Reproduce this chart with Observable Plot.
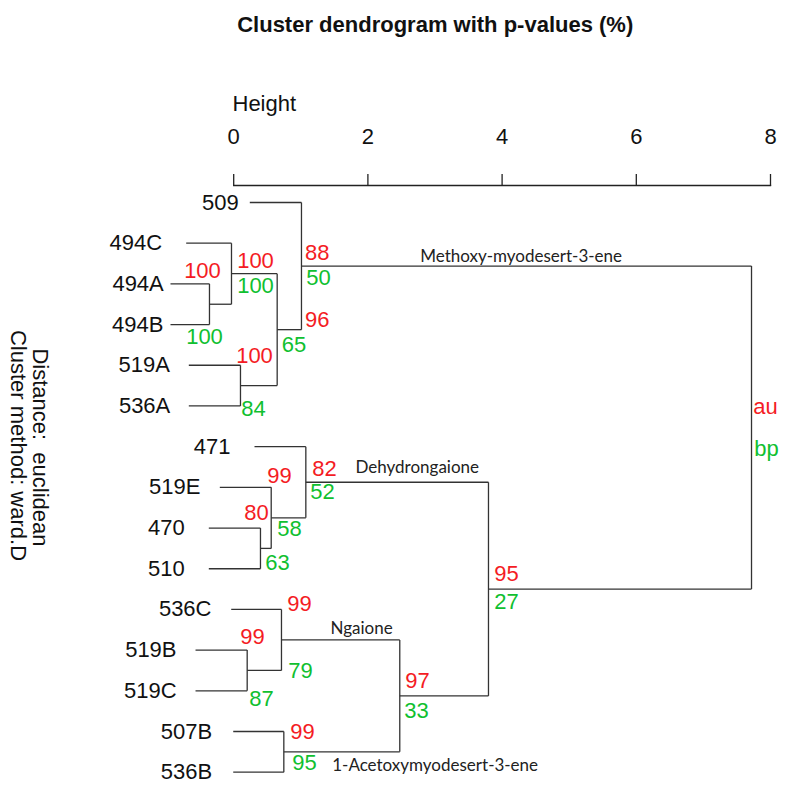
<!DOCTYPE html>
<html><head><meta charset="utf-8">
<script src="https://cdn.jsdelivr.net/npm/d3@7"></script>
<script src="https://cdn.jsdelivr.net/npm/@observablehq/plot@0.6"></script>
<style>body{margin:0;background:#fff}</style>
</head><body><div id="chart"></div>
<script>
// ---- Leaves (top to bottom) ----
const leaves    = ["509","494C","494A","494B","519A","536A","471","519E","470","510","536C","519B","519C","507B","536B"];
// height where each leaf's branch begins (hang) and where its label ends
const leafStart = [0.240,-0.708,-0.942,-0.942,-0.669,-0.669,0.310,-0.207,-0.371,-0.371,-0.037,-0.569,-0.569,-0.007,-0.007];
const labelEnd  = [0.076,-1.066,-1.042,-1.046,-0.952,-0.945,-0.048,-0.495,-0.729,-0.729,-0.331,-0.852,-0.852,-0.320,-0.320];

// ---- Merges ----
const nodeIds     = ["n1","n2","n3","n4","n5","n6","n7","n8","n9","n10","n11","n12","n13","n14"];
const mergeLeft   = ["494A","494C","519A","n2","509","470","519E","471","519B","536C","507B","n10","n8","n5"];
const mergeRight  = ["494B","n1","536A","n3","n4","510","n6","n7","519C","n9","536B","n11","n12","n13"];
const mergeHeight = [-0.361,-0.033,0.101,0.648,1.010,0.399,0.559,1.075,0.201,0.712,0.747,2.475,3.797,7.717];

// ---- p-values (%) ----
const auValues = [100,100,100,96,88,80,99,82,99,99,99,97,95];
const bpValues = [100,100,84,65,50,63,58,52,87,79,95,33,27];
// label anchors (height, leaf row)
const auH   = [-0.465,0.325,0.310,1.244,1.244,0.340,0.683,1.353,0.280,0.981,1.025,2.739,4.066];
const auRow = [1.671,1.438,3.760,2.888,1.241,7.631,6.709,6.537,10.683,9.855,13.001,11.760,9.118];
const bpH   = [-0.435,0.325,0.295,0.899,1.264,0.653,0.832,1.323,0.414,0.995,1.055,2.724,4.066];
const bpRow = [3.305,2.040,5.063,3.507,1.855,8.860,8.012,7.110,12.190,11.502,13.763,12.485,9.806];

// ---- legend & compound annotations ----
const legendText = ["au","bp"];
const legendH    = [7.926,7.941];
const legendRow  = [5.013,6.05];
const compounds   = ["Methoxy-myodesert-3-ene","Dehydrongaione","Ngaione","1-Acetoxymyodesert-3-ene"];
const compoundH   = [2.780,1.815,1.443,1.468];
const compoundRow = [1.45,6.65,10.61,13.98];

const xTicks = [0,2,4,6,8];

// ---- build tree geometry ----
const pos = {};
leaves.forEach((name,i)=>{ pos[name] = {row:i, leaf:true, start:leafStart[i]}; });
const links = [];
nodeIds.forEach((id,i)=>{
  const h = mergeHeight[i];
  const kids = [pos[mergeLeft[i]], pos[mergeRight[i]]];
  kids.forEach(k=>{
    links.push({x1: k.leaf ? k.start : k.h, y1: k.row, x2: h, y2: k.row});
  });
  links.push({x1: h, y1: kids[0].row, x2: h, y2: kids[1].row});
  pos[id] = {row:(kids[0].row+kids[1].row)/2, leaf:false, h};
});

const leafData = leaves.map((name,i)=>({name, row:i, x:labelEnd[i]}));
const auData = auValues.map((v,i)=>({v, x:auH[i], y:auRow[i]}));
const bpData = bpValues.map((v,i)=>({v, x:bpH[i], y:bpRow[i]}));
const legendData = legendText.map((t,i)=>({t, x:legendH[i], y:legendRow[i]}));
const compData = compounds.map((t,i)=>({t, x:compoundH[i], y:compoundRow[i]}));

const RED = "#f41c24", GREEN = "#10c030", INK = "#222";
const FONT = "Liberation Sans, Arial, sans-serif";

const chart = Plot.plot({
  width: 788, height: 789,
  marginTop: 185, marginLeft: 233.2, marginRight: 18, marginBottom: 0,
  style: {fontFamily: FONT, background: "#fff", color: INK},
  x: {domain: [0, 8]},
  y: {domain: [0, 14], range: [202, 771.7], axis: null},
  marks: [
    Plot.frame({anchor: "top", stroke: INK, strokeWidth: 1.3}),
    Plot.axisX({anchor: "top", ticks: xTicks, tickSize: 12, tickPadding: 29.7, fontSize: 22, label: null, stroke: INK, strokeWidth: 1.3, fill: "#111", tickFormat: d => String(d)}),
    Plot.link(links, {x1:"x1", y1:"y1", x2:"x2", y2:"y2", stroke: "#333", strokeWidth: 1.3}),
    Plot.text(leafData, {x:"x", y:"row", text:"name", textAnchor:"end", fontSize: 22, fill:"#111"}),
    Plot.text(auData, {x:"x", y:"y", text:"v", fontSize: 22, fill: RED}),
    Plot.text(bpData, {x:"x", y:"y", text:"v", fontSize: 22, fill: GREEN}),
    Plot.text(legendData, {x:"x", y:"y", text:"t", fontSize: 22, fill: (d)=> d.t === "au" ? RED : GREEN}),
    Plot.text(compData, {x:"x", y:"y", text:"t", textAnchor:"start", lineAnchor:"bottom", fontSize: 17, fontFamily: "Lato, sans-serif", fill: "#222"}),
    Plot.text(["Cluster dendrogram with p-values (%)"], {frameAnchor:"top-left", dx: 3.5, dy: -154, textAnchor:"start", lineAnchor:"bottom", fontSize: 22, fontWeight: "bold", fill:"#111"}),
    Plot.text(["Height"], {frameAnchor:"top-left", dx: -1.2, dy: -75, textAnchor:"start", lineAnchor:"bottom", fontSize: 22, fill:"#111"}),
    Plot.text(["Distance:  euclidean"], {frameAnchor:"left", dx: -193.7, dy: -40, rotate: 90, textAnchor:"middle", lineAnchor:"middle", fontSize: 22, fill:"#111"}),
    Plot.text(["Cluster method: ward.D"], {frameAnchor:"left", dx: -215.7, dy: -42, rotate: 90, textAnchor:"middle", lineAnchor:"middle", fontSize: 22, fill:"#111"})
  ]
});
document.getElementById("chart").appendChild(chart);
</script>
</body></html>
